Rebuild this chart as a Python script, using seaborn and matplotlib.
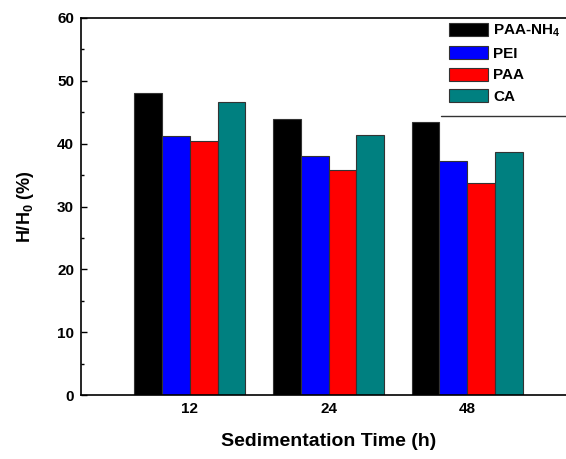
import seaborn as sns
import pandas as pd
import matplotlib.pyplot as plt
from matplotlib.lines import Line2D

# Dados
times = ['12', '24', '48']
materials = ['PAA-NH$_4$', 'PEI', 'PAA', 'CA']
paa_nh4 = [48.0, 44.0, 43.4]
pei = [41.2, 38.0, 37.3]
paa = [40.5, 35.8, 33.8]
ca = [46.6, 41.3, 38.6]
colors = ['#000000', '#0000FF', '#FF0000', '#008080']

rows = []
for mat, vals in zip(materials, [paa_nh4, pei, paa, ca]):
    for t, v in zip(times, vals):
        rows.append({'Time': t, 'Material': mat, 'H': v})
df = pd.DataFrame(rows)

sns.set_style('ticks')
plt.rcParams['font.family'] = ['Liberation Sans', 'DejaVu Sans']
plt.rcParams['font.weight'] = 'bold'
plt.rcParams['text.color'] = 'black'
plt.rcParams['axes.labelcolor'] = 'black'
plt.rcParams['axes.edgecolor'] = 'black'
plt.rcParams['xtick.color'] = 'black'
plt.rcParams['ytick.color'] = 'black'
plt.rcParams['mathtext.fontset'] = 'custom'
plt.rcParams['mathtext.rm'] = 'Liberation Sans:bold'
plt.rcParams['mathtext.it'] = 'Liberation Sans:bold'
plt.rcParams['mathtext.bf'] = 'Liberation Sans:bold'

fig = plt.figure(figsize=(5.66, 4.59), dpi=100)
ax = fig.add_axes([0.1431, 0.1394, 0.8746, 0.8214])

sns.barplot(data=df, x='Time', y='H', hue='Material', order=times,
            hue_order=materials, palette=colors, saturation=1,
            edgecolor='#333333', linewidth=0.8, width=0.8, ax=ax)

ax.set_ylim(0, 60)
ax.set_xlim(-0.784, 2.784)
ax.set_yticks(range(0, 61, 10))
ax.set_yticks(range(5, 60, 10), minor=True)
ax.tick_params(axis='y', which='both', direction='in', labelsize=11, width=1, pad=5)
ax.tick_params(axis='y', which='major', length=4)
ax.tick_params(axis='y', which='minor', length=2.5)
ax.tick_params(axis='x', length=0, labelsize=11, pad=5)
for lab in ax.get_xticklabels() + ax.get_yticklabels():
    lab.set_fontweight('bold')
for s in ax.spines.values():
    s.set_linewidth(1.2)

ax.set_xlabel('Sedimentation Time (h)', fontsize=14, fontweight='bold', labelpad=12)
ax.set_ylabel('H/H$_0$ (%)', fontsize=13, fontweight='bold', labelpad=15)

leg = ax.legend(loc='upper left', bbox_to_anchor=(0.735, 1.0), frameon=False,
                handlelength=2.5, handleheight=0.95, labelspacing=0.45,
                handletextpad=0.35, borderpad=0.3, borderaxespad=0,
                prop={'weight': 'bold', 'size': 11})
ax.add_line(Line2D([0.728, 1.0], [0.74, 0.74], transform=ax.transAxes,
                   color='#333333', linewidth=1, clip_on=False))

fig.savefig('out.png', dpi=100)
